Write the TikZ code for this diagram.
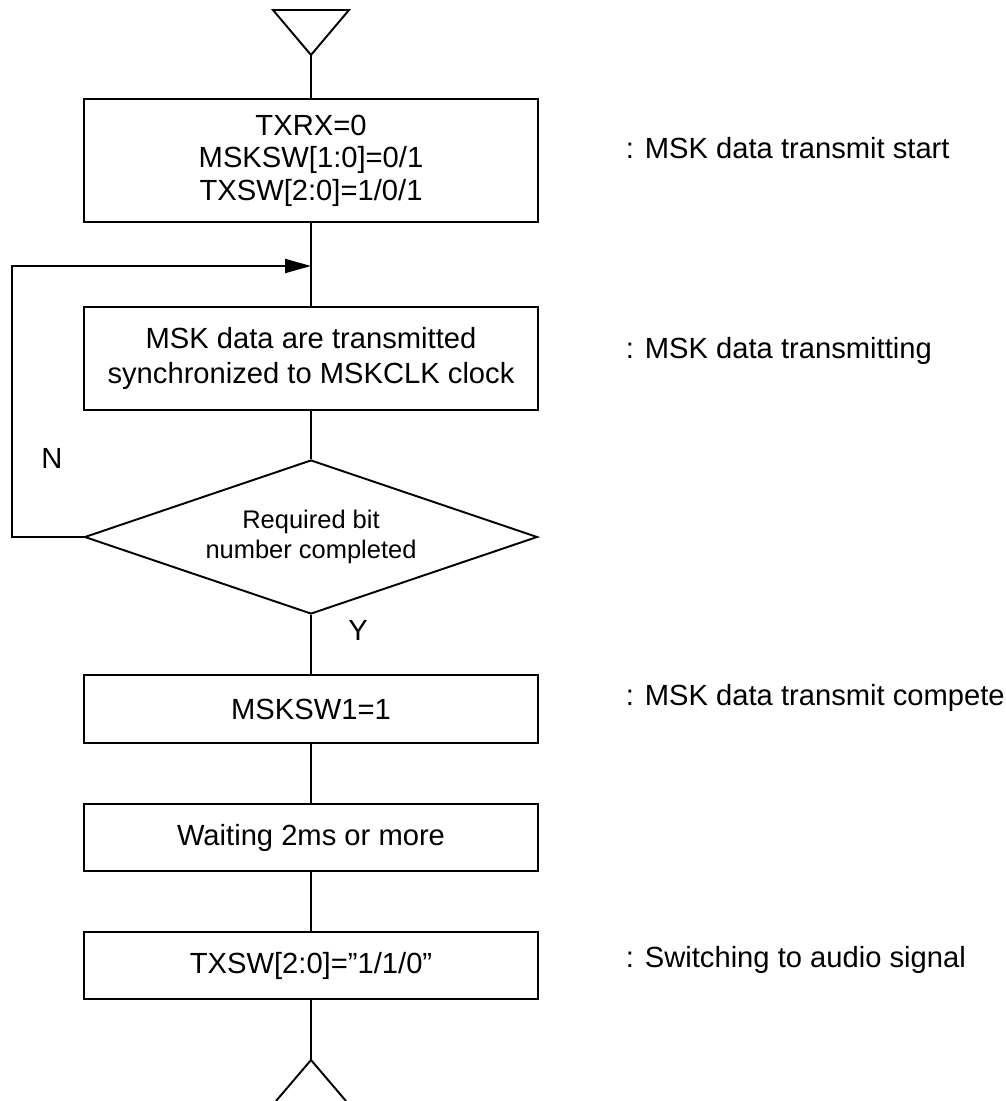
\documentclass[tikz,border=0pt]{standalone}
\usepackage{fontspec}
\setmainfont{Liberation Sans}
\usetikzlibrary{shapes.geometric,arrows.meta}

\begin{document}
\begin{tikzpicture}[x=0.02cm, y=-0.02cm, line width=1.1pt,
        procbox/.style={draw, minimum width=9.08cm, align=center, inner sep=0pt,
            font=\fontsize{16.6}{18.5}\selectfont},
        testbox/.style={draw, diamond, aspect=2.94, minimum width=9.06cm, minimum height=3.08cm,
            inner sep=0pt, align=center, font=\fontsize{14.5}{17}\selectfont},
        note/.style={anchor=base west, inner sep=0pt, font=\fontsize{16.6}{18.5}\selectfont},
        yn/.style={inner sep=0pt, font=\fontsize{16.6}{18.5}\selectfont},
        flow/.style={-{Triangle[length=0.52cm,width=0.28cm]}}]
                \useasboundingbox (0,0) rectangle (1005,1101);

                \draw (273,10) -- (349,10) -- (311,55) -- cycle;
                \coordinate (tin) at (311,55);

                \node[procbox, minimum height=2.46cm] (b1) at (311,160.5)
                    {TXRX=0\\MSKSW[1:0]=0/1\\TXSW[2:0]=1/0/1};
                \node[procbox, minimum height=2.06cm, font=\fontsize{16.6}{20}\selectfont] (b2) at (311,358.5)
                    {MSK data are transmitted\\synchronized to MSKCLK clock};
                \node[testbox] (dec) at (311,537) {Required bit\\number completed};
                \node[procbox, minimum height=1.36cm] (b3) at (311,709) {MSKSW1=1};
                \node[procbox, minimum height=1.34cm] (b4) at (311,837.5) {Waiting 2ms or more};
                \node[procbox, minimum height=1.34cm] (b5) at (311,965.5) {TXSW[2:0]=”1/1/0”};

                \coordinate (tout) at (311,1060);
                \draw (276,1101) -- (tout) -- (346,1101);

                \coordinate (nw) at (12,266);
                \coordinate (ret) at (311,266);

                \draw (tin) -- (b1);
                \draw (b1) -- (b2);
                \draw (b2) -- (dec);
                \draw (dec) -- (b3);
                \draw (b3) -- (b4);
                \draw (b4) -- (b5);
                \draw (b5) -- (tout);
                \draw[flow] (dec.west) -| (nw) -- (ret);

                \node[yn] (nlab) at (52,458) {N};
                \node[yn] (ylab) at (358,630) {Y};

                \node[note] (n1) at (625,159) {: MSK data transmit start};
                \node[note] (n2) at (625,358) {: MSK data transmitting};
                \node[note] (n3) at (625,705) {: MSK data transmit compete};
                \node[note] (n4) at (625,967) {: Switching to audio signal};
            \end{tikzpicture}
\end{document}
